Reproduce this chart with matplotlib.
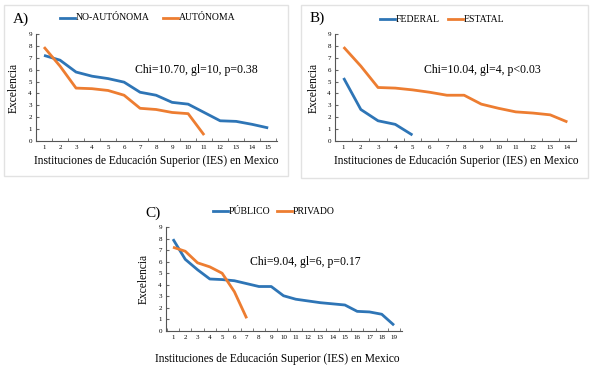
import matplotlib
matplotlib.use("Agg")
import matplotlib.pyplot as plt
from matplotlib.patches import Rectangle
from matplotlib.lines import Line2D

plt.rcParams['font.family'] = ['Liberation Serif', 'DejaVu Serif']

# Data
a_no_autonoma = [7.2, 6.8, 5.8, 5.45, 5.25, 4.95, 4.1, 3.85, 3.25, 3.1, 2.4, 1.7, 1.65, 1.4, 1.1]
a_autonoma = [7.9, 6.3, 4.45, 4.4, 4.25, 3.85, 2.75, 2.65, 2.4, 2.3, 0.5]
b_federal = [5.3, 2.65, 1.7, 1.4, 0.5]
b_estatal = [7.9, 6.3, 4.5, 4.45, 4.3, 4.1, 3.85, 3.85, 3.1, 2.75, 2.45, 2.35, 2.2, 1.6]
c_publico = [7.95, 6.2, 5.3, 4.5, 4.45, 4.35, 4.1, 3.85, 3.85, 3.05, 2.75, 2.6, 2.45, 2.35, 2.25, 1.7, 1.65, 1.45, 0.5]
c_privado = [7.25, 6.9, 5.9, 5.55, 5.0, 3.4, 1.1]

panels = [
    dict(tag="A)", names=["NO-AUTÓNOMA", "AUTÓNOMA"], series=[a_no_autonoma, a_autonoma],
         stat="Chi=10.70, gl=10, p=0.38"),
    dict(tag="B)", names=["FEDERAL", "ESTATAL"], series=[b_federal, b_estatal],
         stat="Chi=10.04, gl=4, p<0.03"),
    dict(tag="C)", names=["PÚBLICO", "PRIVADO"], series=[c_publico, c_privado],
         stat="Chi=9.04, gl=6, p=0.17"),
]
xlabel = "Instituciones de Educación Superior (IES) en Mexico"
ylabel = "Excelencia"

W, H = 590, 373
fig = plt.figure(figsize=(W / 100, H / 100), dpi=100)
fig.patch.set_facecolor("white")

def px(x0, y0, x1, y1):
    return [x0 / W, 1 - y1 / H, (x1 - x0) / W, (y1 - y0) / H]

# panel frames
for (x0, y0, x1, y1) in [(4, 5, 288, 176), (301, 5, 588, 178)]:
    fig.patches.append(Rectangle((x0 / W, 1 - y1 / H), (x1 - x0) / W, (y1 - y0) / H,
                                 transform=fig.transFigure, fill=False,
                                 edgecolor="#e2e2e2", linewidth=1.0))

layout = [
    dict(ax=(36, 34, 277, 141), xlim=(0.5, 15.55), tag=(13, 19), leg=[(60, 18), (163, 18)],
         stat=(135, 70), xl=(156, 161), yl=(14, 88)),
    dict(ax=(335, 34, 576, 141), xlim=(0.55, 14.5), tag=(310, 18), leg=[(380, 19), (448, 19)],
         stat=(424, 70), xl=(456, 161), yl=(314, 88)),
    dict(ax=(166, 227, 402, 331), xlim=(0.43, 19.65), tag=(145, 213), leg=[(213, 211), (277, 211)],
         stat=(250, 262), xl=(277, 359), yl=(144, 279)),
]

colors = ["#2E75B6", "#ED7D31"]

for p, L in zip(panels, layout):
    ax = fig.add_axes(px(*L["ax"]))
    for s, c in zip(p["series"], colors):
        ax.plot(range(1, len(s) + 1), s, color=c, linewidth=2.0, solid_capstyle="butt")
    ax.set_xlim(*L["xlim"])
    ax.set_ylim(0, 9)
    n = max(len(s) for s in p["series"])
    ax.set_xticks(range(1, n + 1))
    ax.set_xticks([i + 0.5 for i in range(0, n + 1)], minor=True)
    ax.set_yticks(range(0, 10))
    ax.tick_params(axis="x", which="major", length=0, labelsize=5, pad=3)
    ax.tick_params(axis="x", which="minor", length=2, direction="in", color="#666666")
    ax.tick_params(axis="y", length=2, direction="in", labelsize=5, pad=3, color="#666666")
    for sp in ["top", "right"]:
        ax.spines[sp].set_visible(False)
    for sp in ["left", "bottom"]:
        ax.spines[sp].set_color("#555555")
        ax.spines[sp].set_linewidth(0.8)
    ax.patch.set_alpha(0)

    fig.text(L["tag"][0] / W, 1 - L["tag"][1] / H, p["tag"], fontsize=11,
             ha="left", va="center")
    fig.text(L["stat"][0] / W, 1 - L["stat"][1] / H, p["stat"], fontsize=8.5,
             ha="left", va="center")
    fig.text(L["xl"][0] / W, 1 - L["xl"][1] / H, xlabel, fontsize=8.3,
             ha="center", va="center")
    fig.text(L["yl"][0] / W, 1 - L["yl"][1] / H, ylabel, fontsize=8.3,
             ha="center", va="center", rotation=90)
    # legend (manual)
    for (x0, ly), nm, c in zip(L["leg"], p["names"], colors):
        fig.lines.append(Line2D([x0 / W, (x0 + 15) / W], [1 - ly / H, 1 - ly / H],
                                transform=fig.transFigure, color=c, linewidth=2.0))
        fig.text((x0 + 16) / W, 1 - ly / H, nm, fontsize=7, ha="left", va="center")

fig.savefig("out.png", dpi=100, facecolor="white")
